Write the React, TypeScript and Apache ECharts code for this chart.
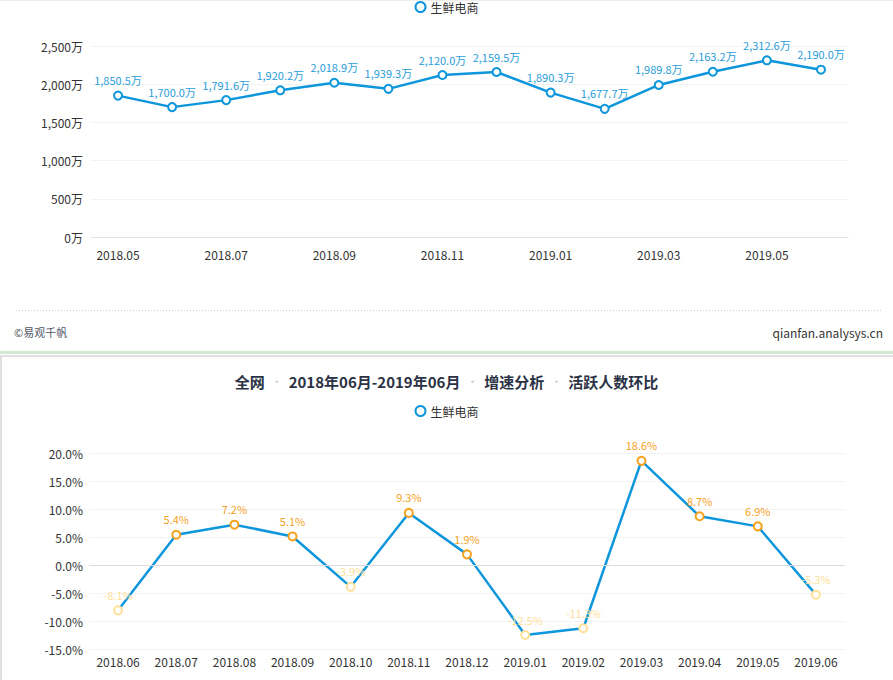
import React, { useEffect, useRef } from "react";
import * as echarts from "echarts";

const topCategories = [
  "2018.05", "2018.06", "2018.07", "2018.08", "2018.09", "2018.10", "2018.11",
  "2018.12", "2019.01", "2019.02", "2019.03", "2019.04", "2019.05", "2019.06",
];
const topValues = [
  1850.5, 1700.0, 1791.6, 1920.2, 2018.9, 1939.3, 2120.0,
  2159.5, 1890.3, 1677.7, 1989.8, 2163.2, 2312.6, 2190.0,
];
const bottomCategories = [
  "2018.06", "2018.07", "2018.08", "2018.09", "2018.10", "2018.11", "2018.12",
  "2019.01", "2019.02", "2019.03", "2019.04", "2019.05", "2019.06",
];
const bottomValues = [-8.1, 5.4, 7.2, 5.1, -3.9, 9.3, 1.9, -12.5, -11.3, 18.6, 8.7, 6.9, -5.3];
const seriesName = "生鲜电商";
const titleParts = ["全网", "2018年06月-2019年06月", "增速分析", "活跃人数环比"];
const footerLeft = "©易观千帆";
const footerRight = "qianfan.analysys.cn";

const FONT = '"Microsoft YaHei", "Noto Sans CJK SC", "Noto Sans", sans-serif';
const BLUE = "#0d96dc";
const LABEL_BLUE = "#2a9ddb";
const ORANGE = "#f7a21e";
const PALE = "#ffe19a";

const fmt1 = (v: number) =>
  v.toLocaleString("en-US", { minimumFractionDigits: 1, maximumFractionDigits: 1 });

export default function App() {
  const ref = useRef<HTMLDivElement>(null);

  useEffect(() => {
    document.body.style.margin = "0";
    if (!ref.current) return;
    const chart = echarts.init(ref.current, null, { renderer: "svg" });

    const titleText = titleParts.map((p) => `{t|${p}}`).join("{d|•}");

    const option: any = {
      animation: false,
      backgroundColor: "#fff",
      textStyle: { fontFamily: FONT },
      title: {
        text: titleText,
        left: "center",
        top: 369,
        textStyle: {
          rich: {
            t: { fontSize: 15, fontWeight: "bold", color: "#2b3245", fontFamily: FONT },
            d: { fontSize: 10, color: "#cfd3da", padding: [0, 7], fontFamily: FONT },
          },
        },
      },
      legend: [
        {
          data: [seriesName],
          top: 1,
          padding: 0,
          left: "center",
          icon: "emptyCircle",
          itemWidth: 10,
          itemHeight: 10,
          itemGap: 4,
          textStyle: { color: "#333", fontSize: 12, fontFamily: FONT },
          selectedMode: false,
        },
        {
          data: [seriesName],
          top: 400,
          left: "center",
          icon: "emptyCircle",
          itemWidth: 10,
          itemHeight: 10,
          textStyle: { color: "#333", fontSize: 12, fontFamily: FONT },
          selectedMode: false,
        },
      ],
      grid: [
        { left: 91, right: 45, top: 46, bottom: 443 },
        { left: 89, right: 48, top: 453, bottom: 31 },
      ],
      xAxis: [
        {
          type: "category",
          gridIndex: 0,
          data: topCategories,
          boundaryGap: true,
          axisLine: { lineStyle: { color: "#e3e3e3" } },
          axisTick: { lineStyle: { color: "#e3e3e3" } },
          axisLabel: { interval: 1, color: "#333", fontSize: 12, margin: 11, fontFamily: FONT },
        },
        {
          type: "category",
          gridIndex: 1,
          data: bottomCategories,
          boundaryGap: true,
          axisLine: { show: false },
          axisTick: { show: false },
          axisLabel: { interval: 0, color: "#333", fontSize: 12, margin: 6, fontFamily: FONT },
        },
      ],
      yAxis: [
        {
          type: "value",
          gridIndex: 0,
          min: 0,
          max: 2500,
          interval: 500,
          axisLine: { show: false },
          axisTick: { show: false },
          splitLine: { lineStyle: { color: "#f3f3f3" } },
          axisLabel: {
            color: "#333",
            fontSize: 12,
            margin: 8,
            fontFamily: FONT,
            formatter: (v: number) => v.toLocaleString("en-US") + "万",
          },
        },
        {
          type: "value",
          gridIndex: 1,
          min: -15,
          max: 20,
          interval: 5,
          axisLine: { show: false },
          axisTick: { show: false },
          splitLine: { lineStyle: { color: "#f3f3f3" } },
          axisLabel: {
            color: "#333",
            fontSize: 12,
            margin: 6,
            fontFamily: FONT,
            formatter: (v: number) => v.toFixed(1) + "%",
          },
        },
      ],
      series: [
        {
          name: seriesName,
          type: "line",
          xAxisIndex: 0,
          yAxisIndex: 0,
          data: topValues,
          symbol: "emptyCircle",
          symbolSize: 8,
          lineStyle: { color: BLUE, width: 2.5 },
          itemStyle: { color: BLUE, borderWidth: 2 },
          label: {
            show: true,
            position: "top",
            color: LABEL_BLUE,
            fontSize: 11,
            fontFamily: FONT,
            formatter: (p: any) => fmt1(p.value) + "万",
          },
        },
        {
          name: seriesName,
          type: "line",
          xAxisIndex: 1,
          yAxisIndex: 1,
          data: bottomValues.map((v) => ({
            value: v,
            itemStyle: { color: v >= 0 ? ORANGE : PALE, borderColor: v >= 0 ? ORANGE : PALE },
            label: { color: v >= 0 ? ORANGE : PALE },
          })),
          symbol: "emptyCircle",
          symbolSize: 8,
          lineStyle: { color: BLUE, width: 2.5 },
          itemStyle: { color: BLUE, borderWidth: 2 },
          label: {
            show: true,
            position: "top",
            fontSize: 11,
            fontFamily: FONT,
            formatter: (p: any) => p.value.toFixed(1) + "%",
          },
          markLine: {
            silent: true,
            symbol: "none",
            label: { show: false },
            lineStyle: { color: "#dcdcdc", type: "solid", width: 1 },
            data: [{ yAxis: 0 }],
          },
        },
      ],
      graphic: [
        {
          type: "rect",
          shape: { x: 0, y: 0, width: 893, height: 1 },
          style: { fill: "#eeeeee" },
          silent: true,
        },
        {
          type: "line",
          shape: { x1: 16, y1: 310.5, x2: 883, y2: 310.5 },
          style: { stroke: "#cfcfcf", lineWidth: 1, lineDash: [1, 2] },
          silent: true,
        },
        {
          type: "text",
          x: 14,
          y: 332,
          style: {
            text: footerLeft,
            fill: "#4f5666",
            fontSize: 11,
            fontFamily: FONT,
            verticalAlign: "middle",
          },
          silent: true,
        },
        {
          type: "text",
          x: 883,
          y: 332,
          style: {
            text: footerRight,
            fill: "#333",
            fontSize: 12,
            fontFamily: FONT,
            align: "right",
            verticalAlign: "middle",
          },
          silent: true,
        },
        {
          type: "rect",
          shape: { x: 0, y: 351, width: 893, height: 3 },
          style: { fill: "#d3e9d3" },
          silent: true,
        },
        {
          type: "rect",
          shape: { x: 1, y: 356, width: 900, height: 400 },
          style: { fill: "none", stroke: "#d6d6d6", lineWidth: 1.5 },
          silent: true,
        },
      ],
    };

    chart.setOption(option);
    return () => chart.dispose();
  }, []);

  return <div ref={ref} style={{ width: 893, height: 680 }} />;
}
